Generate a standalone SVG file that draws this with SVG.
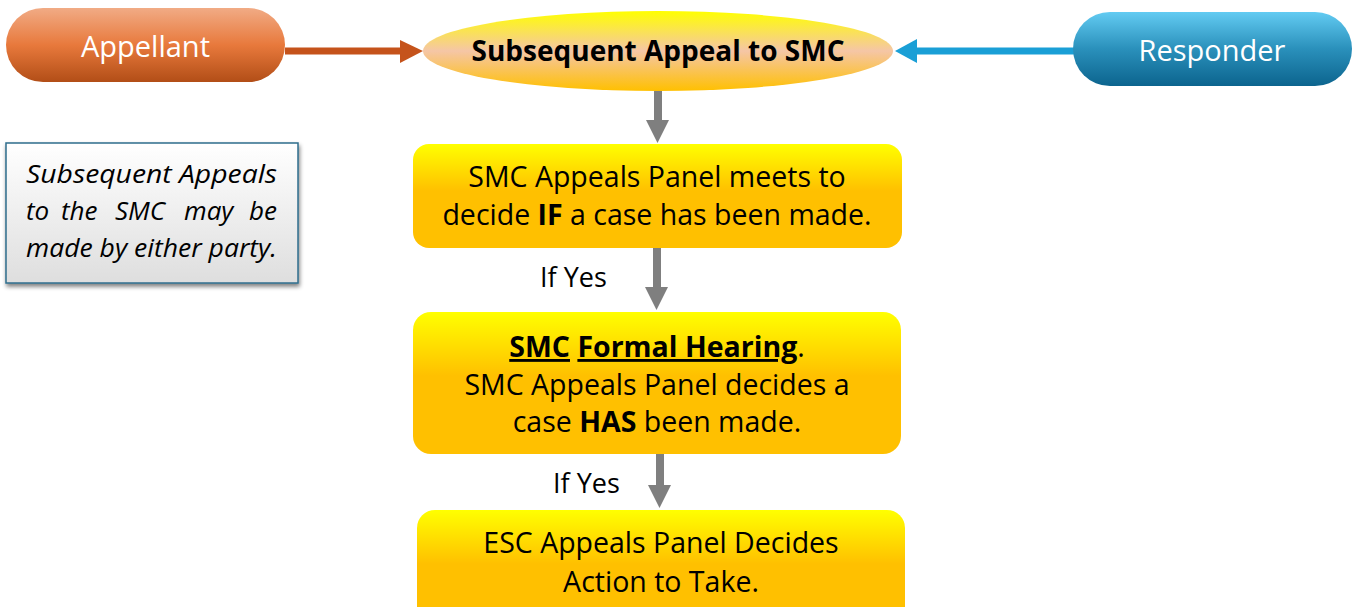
<svg xmlns="http://www.w3.org/2000/svg" width="1359" height="607" viewBox="0 0 1359 607">
  <defs>
    <linearGradient id="gOrange" x1="0" y1="0" x2="0" y2="1">
      <stop offset="0" stop-color="#f1ab85"/>
      <stop offset="0.5" stop-color="#e8793c"/>
      <stop offset="1" stop-color="#b24e17"/>
    </linearGradient>
    <linearGradient id="gBlue" x1="0" y1="0" x2="0" y2="1">
      <stop offset="0" stop-color="#62cbf2"/>
      <stop offset="0.5" stop-color="#2a90bb"/>
      <stop offset="1" stop-color="#0c648e"/>
    </linearGradient>
    <linearGradient id="gOval" x1="0" y1="0" x2="0" y2="1">
      <stop offset="0" stop-color="#ffff00"/>
      <stop offset="0.5" stop-color="#f5c6a6"/>
      <stop offset="1" stop-color="#ffc000"/>
    </linearGradient>
    <linearGradient id="gStep" x1="0" y1="0" x2="0" y2="1">
      <stop offset="0" stop-color="#ffff00"/>
      <stop offset="0.45" stop-color="#ffc000"/>
      <stop offset="1" stop-color="#ffc000"/>
    </linearGradient>
    <linearGradient id="gNote" x1="0" y1="0" x2="0" y2="1">
      <stop offset="0" stop-color="#ffffff"/>
      <stop offset="1" stop-color="#dedede"/>
    </linearGradient>
    <filter id="shadow" x="-10%" y="-10%" width="125%" height="130%">
      <feGaussianBlur in="SourceAlpha" stdDeviation="2"/>
      <feOffset dx="1" dy="3" result="b"/>
      <feComponentTransfer><feFuncA type="linear" slope="0.5"/></feComponentTransfer>
      <feMerge><feMergeNode/><feMergeNode in="SourceGraphic"/></feMerge>
    </filter>
  </defs>
  <style>
    text { font-family: "Open Sans", "Noto Sans", "Liberation Sans", sans-serif; }
    .pill { font-size: 29px; fill: #ffffff; text-anchor: middle; }
    .step { font-size: 28.5px; fill: #000000; text-anchor: middle; }
    .b { font-weight: bold; }
    .u { text-decoration: underline; }
    .lbl { font-size: 27px; fill: #000000; }
    .note { font-size: 26px; font-style: italic; fill: #000000; }
  </style>

  <!-- connectors -->
  <g id="connectors">
    <!-- Appellant -> appeal -->
    <rect x="285" y="47.5" width="118" height="7" fill="#c5531b"/>
    <polygon points="400,40 423,51 400,63" fill="#c5531b"/>
    <!-- Responder -> appeal -->
    <rect x="914" y="47.5" width="160" height="7" fill="#1a9fd6"/>
    <polygon points="917,39 895,51 917,63" fill="#1a9fd6"/>
    <!-- vertical flow arrows -->
    <rect x="654" y="91" width="8" height="31" fill="#7f7f7f"/>
    <polygon points="646,120 669,120 657.5,143" fill="#7f7f7f"/>
    <rect x="653" y="248" width="8" height="41" fill="#7f7f7f"/>
    <polygon points="645,287 668,287 656.5,310" fill="#7f7f7f"/>
    <text class="lbl" x="540" y="287">If Yes</text>
    <rect x="656" y="454" width="8" height="33" fill="#7f7f7f"/>
    <polygon points="648,485 671,485 659.5,508" fill="#7f7f7f"/>
    <text class="lbl" x="553" y="493">If Yes</text>
  </g>

  <g id="appellant">
    <rect x="6" y="8" width="279" height="74" rx="37" fill="url(#gOrange)"/>
    <text class="pill" x="145.5" y="57">Appellant</text>
  </g>

  <g id="appeal">
    <ellipse cx="658" cy="51" rx="235" ry="40" fill="url(#gOval)"/>
    <text class="step b" x="658" y="61" style="font-size:28px">Subsequent Appeal to SMC</text>
  </g>

  <g id="responder">
    <rect x="1073" y="12" width="279" height="74" rx="37" fill="url(#gBlue)"/>
    <text class="pill" x="1212" y="61">Responder</text>
  </g>

  <g id="note">
    <rect x="6" y="143" width="292" height="140" fill="url(#gNote)" stroke="#2f6d8c" stroke-width="1.5" filter="url(#shadow)"/>
    <text class="note" x="26" y="183" textLength="251" lengthAdjust="spacingAndGlyphs">Subsequent Appeals</text>
    <!-- justified line: words placed individually -->
    <text class="note" x="26" y="220">to</text>
    <text class="note" x="61" y="220">the</text>
    <text class="note" x="115" y="220">SMC</text>
    <text class="note" x="184" y="220">may</text>
    <text class="note" x="277" y="220" text-anchor="end">be</text>
    <text class="note" x="26" y="257" textLength="251" lengthAdjust="spacingAndGlyphs">made by either party.</text>
  </g>

  <g id="panel-meets">
    <rect x="413" y="144" width="489" height="104" rx="16" fill="url(#gStep)"/>
    <text class="step" x="657" y="187">SMC Appeals Panel meets to</text>
    <text class="step" x="657" y="225">decide <tspan class="b">IF</tspan> a case has been made.</text>
  </g>

  <g id="formal-hearing">
    <rect x="413" y="312" width="488" height="142" rx="18" fill="url(#gStep)"/>
    <text class="step" x="657" y="357"><tspan class="b u">SMC</tspan> <tspan class="b u">Formal Hearing</tspan>.</text>
    <text class="step" x="657" y="395">SMC Appeals Panel decides a</text>
    <text class="step" x="657" y="432">case <tspan class="b">HAS</tspan> been made.</text>
  </g>

  <g id="esc-decides">
    <rect x="417" y="510" width="488" height="120" rx="18" fill="url(#gStep)"/>
    <text class="step" x="661" y="553">ESC Appeals Panel Decides</text>
    <text class="step" x="661" y="592">Action to Take.</text>
  </g>
</svg>
